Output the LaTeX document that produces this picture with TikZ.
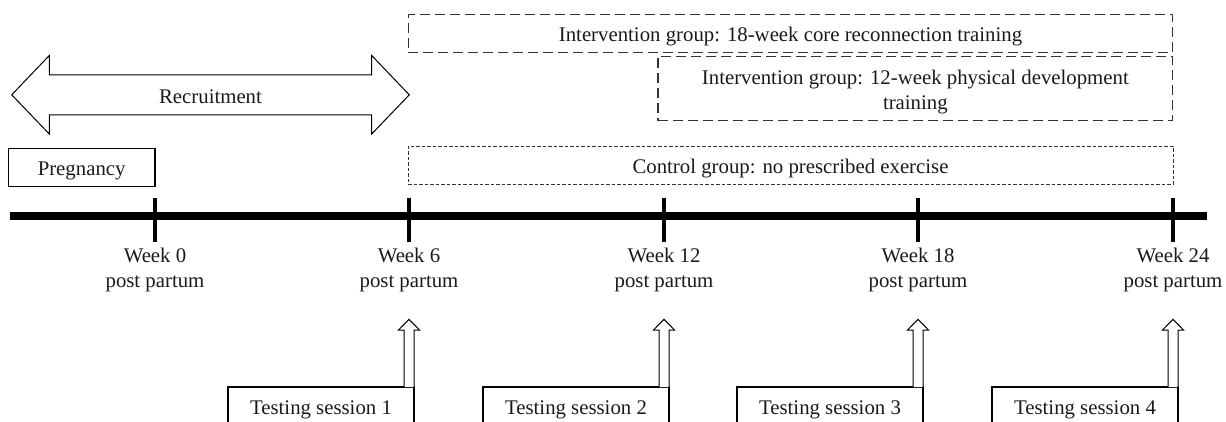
\documentclass[tikz,border=0pt]{standalone}
\usepackage{fontspec}
\setmainfont{Liberation Serif}
\usetikzlibrary{calc}
\definecolor{txt}{HTML}{1A1A1A}
\definecolor{dashc}{HTML}{333333}
\begin{document}
\begin{tikzpicture}[x=1pt,y=-1pt,
  lab/.style={font=\fontsize{20.8}{25}\selectfont, text=txt},
  solidbox/.style={lab, draw=black, line width=1.1pt, inner sep=0pt, outer sep=0pt, text height=27.5pt, text depth=10.8pt},
  longdash/.style={lab, draw=dashc, line width=1.1pt, dash pattern=on 10pt off 5pt, inner sep=0pt, outer sep=0pt, text height=27.5pt, text depth=10.5pt},
  shortdash/.style={lab, draw=dashc, line width=1pt, dash pattern=on 3.5pt off 2pt, inner sep=0pt, outer sep=0pt, text height=27.5pt, text depth=10.5pt},
  weeklab/.style={lab, align=center, anchor=north, inner sep=0pt},
  hollow/.style={draw=black, line width=1pt, fill=white, line join=miter},
  tickmark/.style={line width=4.5pt, draw=black},
  bar/.style={line width=8pt, draw=black}
]
\useasboundingbox (0,0) rectangle (1226,421);
\clip (0,0) rectangle (1226,421);

% group boxes
\node[longdash, anchor=north west, minimum width=764.4pt] (int18) at (408.3,14.3)
  {Intervention group: 18-week core reconnection training};
\node[longdash, anchor=north west, minimum width=514.7pt, align=center, text height=52.5pt, text depth=11.5pt] (int12) at (658,56.7)
  {Intervention group: 12-week physical development\\training};
\node[shortdash, anchor=north west, minimum width=765pt] (ctrl) at (408,146)
  {Control group: no prescribed exercise};

% pregnancy
\node[solidbox, anchor=north west, minimum width=146.7pt] (preg) at (8.3,148.3) {Pregnancy};

% recruitment double arrow
\draw[hollow] (11.7,94.8) -- (49.3,55.5) -- (49.3,74.8) -- (371.7,74.8) -- (371.7,55.5)
  -- (409.3,94.8) -- (371.7,134) -- (371.7,114.8) -- (49.3,114.8) -- (49.3,134) -- cycle;
\node[lab] (recr) at (210.5,96.5) {Recruitment};

% timeline
\coordinate (tl0) at (10,215.5);
\coordinate (tl1) at (1207,215.5);
\draw[bar] (tl0) -- (tl1);

\foreach \x/\n in {155/0, 409/6, 664/12, 918/18, 1173/24} {
  \coordinate (t\n) at (\x,197.5);
  \coordinate (b\n) at (\x,242);
  \draw[tickmark] (t\n) -- (b\n);
  \node[weeklab] (wk\n) at (\x,247.5) {Week \n\\post partum};
}

% testing sessions
\foreach \n/\x in {1/409, 2/664, 3/918, 4/1173} {
  \node[solidbox, anchor=north east, minimum width=186pt, text depth=30pt] (ts\n) at (\x+5,387) {Testing session \n};
  \draw[hollow] ($(ts\n.north east)+(-10,0)$) -- ++(0,-57) -- ++(-5.5,0) -- ++(10.5,-10.7)
    -- ++(10.5,10.7) -- ++(-5.5,0) -- ++(0,57);
}
\end{tikzpicture}
\end{document}
